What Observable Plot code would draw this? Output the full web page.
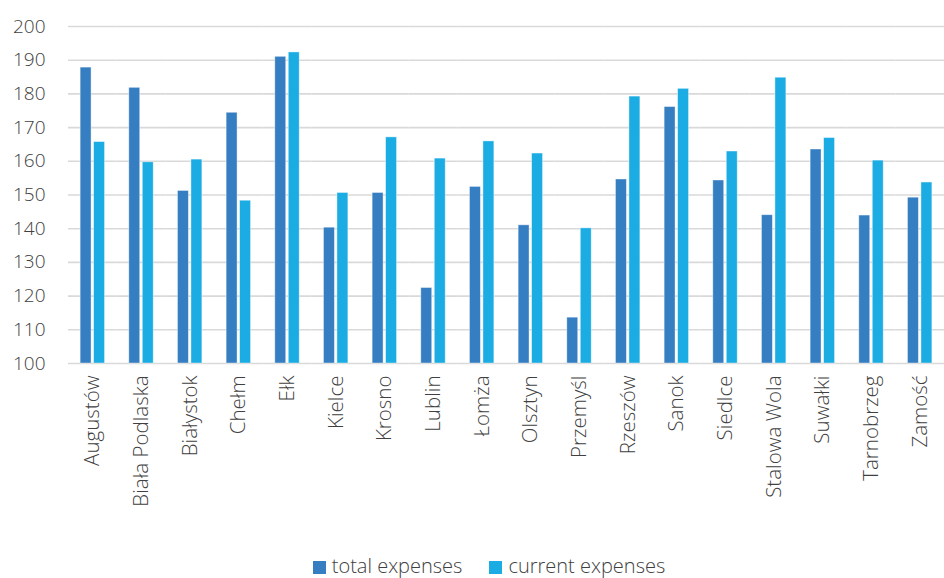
<!DOCTYPE html>
<html>
<head>
<meta charset="utf-8">
<script src="https://cdn.jsdelivr.net/npm/d3@7"></script>
<script src="https://cdn.jsdelivr.net/npm/@observablehq/plot@0.6"></script>
<style>
  body { margin: 0; background: #fff; font-family: "Open Sans", sans-serif; }
  #legend { display: flex; justify-content: center; gap: 27px; font-size: 20px; font-weight: 300; color: #404040; height: 30px; align-items: center; padding-left: 34px; padding-top: 5px; }
  #legend span.sw { display: inline-block; width: 13px; height: 13px; margin-right: 6px; vertical-align: -1px; }
</style>
</head>
<body>
<div id="chart"></div>
<div id="legend"></div>
<script>
const cities = ["Augustów","Biała Podlaska","Białystok","Chełm","Ełk","Kielce","Krosno","Lublin","Łomża","Olsztyn","Przemyśl","Rzeszów","Sanok","Siedlce","Stalowa Wola","Suwałki","Tarnobrzeg","Zamość"];
const totalExpenses = [187.8,181.8,151.2,174.4,191.0,140.3,150.6,122.4,152.4,141.0,113.6,154.6,176.1,154.3,144.0,163.5,143.9,149.2];
const currentExpenses = [165.7,159.7,160.5,148.3,192.3,150.6,167.1,160.8,165.9,162.3,140.1,179.2,181.5,162.9,184.8,166.9,160.2,153.7];
const seriesNames = ["total expenses","current expenses"];
const seriesColors = ["#357ec2","#1aace2"];
const yTicks = [100,110,120,130,140,150,160,170,180,190,200];
const baseline = 100;

const data = [];
cities.forEach((c, i) => {
  data.push({city: c, series: seriesNames[0], value: totalExpenses[i]});
  data.push({city: c, series: seriesNames[1], value: currentExpenses[i]});
});

const chart = Plot.plot({
  width: 944,
  height: 545,
  marginLeft: 68,
  marginRight: 0,
  marginTop: 26,
  marginBottom: 182,
  style: {fontFamily: "'Open Sans', sans-serif", fontWeight: 300, color: "#404040", background: "#fff"},
  fx: {domain: cities, paddingInner: 0, paddingOuter: 0, round: false, label: null},
  x: {domain: seriesNames, axis: null, paddingInner: 0.19, paddingOuter: 0.9, round: false},
  y: {domain: [100, 200], ticks: yTicks, label: null},
  color: {domain: seriesNames, range: seriesColors},
  marks: [
    Plot.ruleY(yTicks, {stroke: "#d9d9d9", strokeWidth: 1.6}),
    Plot.barY(data, {fx: "city", x: "series", y1: () => baseline, y2: "value", fill: "series", stroke: "#ffffff", strokeOpacity: 0.5, strokeWidth: 0.8}),
    Plot.axisY(yTicks, {tickSize: 0, tickPadding: 23, fontSize: 19, label: null}),
    Plot.axisFx({anchor: "bottom", tickRotate: -90, tickSize: 0, tickPadding: 12, fontSize: 20.5, label: null})
  ]
});
chart.querySelectorAll("text").forEach(t => t.setAttribute("fill", "#404040"));
document.getElementById("chart").appendChild(chart);

const legend = document.getElementById("legend");
seriesNames.forEach((s, i) => {
  const item = document.createElement("div");
  item.innerHTML = `<span class="sw" style="background:${seriesColors[i]}"></span>${s}`;
  legend.appendChild(item);
});
</script>
</body>
</html>
